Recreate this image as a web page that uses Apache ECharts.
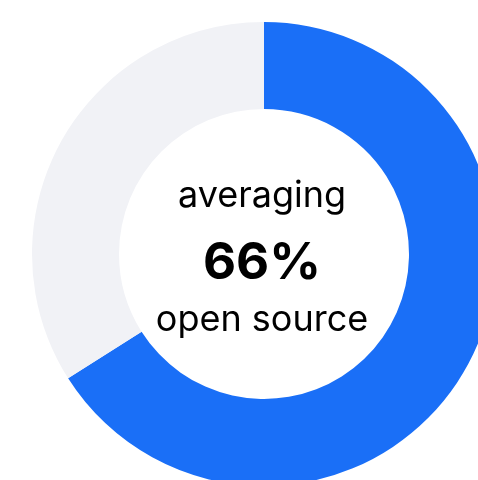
<!DOCTYPE html>
<html><head><meta charset="utf-8">
<script src="https://cdn.jsdelivr.net/npm/echarts@6/dist/echarts.min.js"></script>
<style>html,body{margin:0;padding:0;background:#fff}#c{width:478px;height:480px}</style>
</head><body><div id="c"></div>
<script>
const categories = ['open source', 'other'];
const values = [66, 34];
const labels = ['averaging', '66%', 'open source'];
const colors = ['#1a6ff7', '#f1f2f6'];

const chart = echarts.init(document.getElementById('c'));
chart.setOption({
  animation: false,
  backgroundColor: '#ffffff',
  series: [{
    type: 'pie',
    center: [264, 254],
    radius: [145, 232],
    startAngle: 90,
    clockwise: true,
    silent: true,
    label: { show: false },
    labelLine: { show: false },
    data: categories.map((c, i) => ({ name: c, value: values[i], itemStyle: { color: colors[i] } }))
  }],
  graphic: [
    { type: 'text', x: 262, y: 196, style: { text: labels[0], fontFamily: 'Inter', fontSize: 36, fill: '#000', align: 'center', verticalAlign: 'middle' } },
    { type: 'text', x: 262, y: 264, style: { text: values[0] + '%', fontFamily: 'Inter', fontSize: 51, fontWeight: 'bold', fill: '#000', align: 'center', verticalAlign: 'middle' } },
    { type: 'text', x: 262, y: 320, style: { text: labels[2], fontFamily: 'Inter', fontSize: 36, fill: '#000', align: 'center', verticalAlign: 'middle' } }
  ]
});
</script></body></html>
